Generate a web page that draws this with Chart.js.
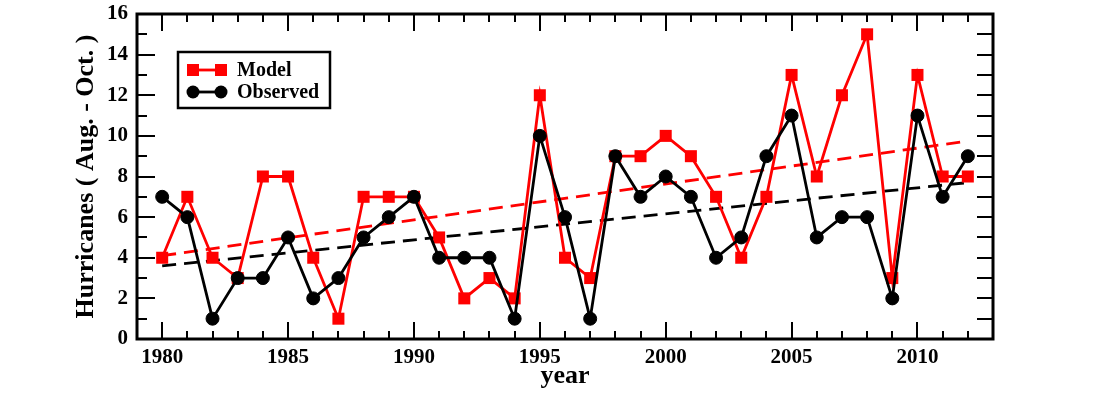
<!DOCTYPE html>
<html>
<head>
<meta charset="utf-8">
<title>Hurricanes (Aug. - Oct.)</title>
<script src="https://cdn.jsdelivr.net/npm/chart.js@4.4.1/dist/chart.umd.min.js"></script>
<style>
  html, body { margin: 0; padding: 0; background: #ffffff; }
  canvas { display: block; }
</style>
</head>
<body>
<canvas id="chart" width="1107" height="394"></canvas>
<script>
// Seasonal (August - October) hurricane counts, 1980-2012
const years = [1980, 1981, 1982, 1983, 1984, 1985, 1986, 1987, 1988, 1989,
               1990, 1991, 1992, 1993, 1994, 1995, 1996, 1997, 1998, 1999,
               2000, 2001, 2002, 2003, 2004, 2005, 2006, 2007, 2008, 2009,
               2010, 2011, 2012];
const modelCounts = [4, 7, 4, 3, 8, 8, 4, 1, 7, 7,
                     7, 5, 2, 3, 2, 12, 4, 3, 9, 9,
                     10, 9, 7, 4, 7, 13, 8, 12, 15, 3,
                     13, 8, 8];
const observedCounts = [7, 6, 1, 3, 3, 5, 2, 3, 5, 6,
                        7, 4, 4, 4, 1, 10, 6, 1, 9, 7,
                        8, 7, 4, 5, 9, 11, 5, 6, 6, 2,
                        11, 7, 9];

// Linear trend lines (end points)
const trendYears = [1980, 2012];
const modelTrend = [4.1, 9.75];
const observedTrend = [3.6, 7.7];

// Axis ticks and labels
const xTickYears = [1980, 1985, 1990, 1995, 2000, 2005, 2010];
const yTickValues = [0, 2, 4, 6, 8, 10, 12, 14, 16];
const seriesNames = ['Model', 'Observed'];
const xTitle = 'year';
const yTitle = 'Hurricanes ( Aug. - Oct. )';

const RED = '#ff0000';
const BLACK = '#000000';
const SERIF = '"Liberation Serif", "Times New Roman", serif';
const LINE_W = 2.8;

const toPoints = (xs, ys) => xs.map((x, i) => ({ x: x, y: ys[i] }));

// Boxed frame with inward major/minor ticks on all four sides
const frameTicks = {
  id: 'frameTicks',
  afterDatasetsDraw(chart) {
    const { ctx, chartArea: a, scales: { x, y } } = chart;
    ctx.save();
    ctx.strokeStyle = BLACK;
    ctx.lineWidth = 2;
    ctx.beginPath();
    for (let yr = Math.ceil(x.min) + 1; yr < x.max; yr++) {
      const px = Math.round(x.getPixelForValue(yr));
      const len = yr % 5 === 0 ? 17 : 8;
      ctx.moveTo(px, a.top); ctx.lineTo(px, a.top + len);
      ctx.moveTo(px, a.bottom); ctx.lineTo(px, a.bottom - len);
    }
    for (let v = y.min + 1; v < y.max; v++) {
      const py = Math.round(y.getPixelForValue(v));
      const len = v % 2 === 0 ? 18 : 10;
      ctx.moveTo(a.left, py); ctx.lineTo(a.left + len, py);
      ctx.moveTo(a.right, py); ctx.lineTo(a.right - 16, py);
    }
    ctx.stroke();
    ctx.lineWidth = 3;
    ctx.strokeRect(a.left, a.top, a.right - a.left, a.bottom - a.top);
    ctx.restore();
  }
};

// Boxed legend in the upper-left of the plot
const boxLegend = {
  id: 'boxLegend',
  afterDraw(chart) {
    const { ctx, chartArea: a } = chart;
    const bx = a.left + 41, by = a.top + 38, bw = 152, bh = 56;
    ctx.save();
    ctx.fillStyle = '#ffffff';
    ctx.fillRect(bx, by, bw, bh);
    ctx.strokeStyle = BLACK;
    ctx.lineWidth = 2.5;
    ctx.strokeRect(bx, by, bw, bh);
    const rows = [
      { name: seriesNames[0], color: RED, shape: 'rect', y: by + 18 },
      { name: seriesNames[1], color: BLACK, shape: 'circle', y: by + 40 }
    ];
    rows.forEach(r => {
      const x1 = bx + 15, x2 = bx + 43;
      ctx.strokeStyle = r.color;
      ctx.fillStyle = r.color;
      ctx.lineWidth = LINE_W;
      ctx.beginPath(); ctx.moveTo(x1, r.y); ctx.lineTo(x2, r.y); ctx.stroke();
      [x1, x2].forEach(px => {
        if (r.shape === 'rect') {
          ctx.fillRect(px - 6, r.y - 6, 12, 12);
        } else {
          ctx.beginPath(); ctx.arc(px, r.y, 6.5, 0, Math.PI * 2); ctx.fill();
        }
      });
      ctx.fillStyle = BLACK;
      ctx.font = 'bold 20px ' + SERIF;
      ctx.textBaseline = 'middle';
      ctx.textAlign = 'left';
      ctx.fillText(r.name, bx + 59, r.y + 1);
    });
    ctx.restore();
  }
};

new Chart(document.getElementById('chart'), {
  type: 'line',
  data: {
    datasets: [
      {
        label: seriesNames[1],
        data: toPoints(years, observedCounts),
        borderColor: BLACK,
        backgroundColor: BLACK,
        borderWidth: LINE_W,
        pointStyle: 'circle',
        pointRadius: 6.5,
        pointBorderWidth: 1,
        tension: 0
      },
      {
        label: seriesNames[0],
        data: toPoints(years, modelCounts),
        borderColor: RED,
        backgroundColor: RED,
        borderWidth: LINE_W,
        pointStyle: 'rect',
        pointRadius: 8.5,
        pointBorderWidth: 0,
        tension: 0
      },
      {
        label: seriesNames[1] + ' trend',
        data: toPoints(trendYears, observedTrend),
        borderColor: BLACK,
        borderWidth: LINE_W,
        borderDash: [14, 8],
        pointRadius: 0,
        tension: 0
      },
      {
        label: seriesNames[0] + ' trend',
        data: toPoints(trendYears, modelTrend),
        borderColor: RED,
        borderWidth: LINE_W,
        borderDash: [14, 8],
        pointRadius: 0,
        tension: 0
      }
    ]
  },
  options: {
    responsive: false,
    animation: false,
    devicePixelRatio: 1,
    layout: { padding: { left: 0, top: 14, right: 114, bottom: 0 } },
    plugins: {
      legend: { display: false },
      tooltip: { enabled: false }
    },
    scales: {
      x: {
        type: 'linear',
        min: 1979,
        max: 2013,
        grid: { display: false, drawTicks: false },
        border: { display: false },
        afterBuildTicks: s => { s.ticks = xTickYears.map(v => ({ value: v })); },
        afterFit: s => { s.height = 55; s.paddingLeft = 0; s.paddingRight = 0; },
        ticks: {
          color: BLACK,
          padding: 6,
          maxRotation: 0,
          autoSkip: false,
          font: { family: SERIF, weight: 'bold', size: 21 },
          callback: v => String(v)
        },
        title: {
          display: true,
          text: xTitle,
          color: BLACK,
          font: { family: SERIF, weight: 'bold', size: 26 },
          padding: { top: 0, bottom: 2 }
        }
      },
      y: {
        type: 'linear',
        min: 0,
        max: 16,
        grid: { display: false, drawTicks: false },
        border: { display: false },
        afterBuildTicks: s => { s.ticks = yTickValues.map(v => ({ value: v })); },
        afterFit: s => { s.width = 137; s.paddingTop = 0; s.paddingBottom = 0; },
        ticks: {
          color: BLACK,
          padding: 9,
          autoSkip: false,
          font: { family: SERIF, weight: 'bold', size: 21 },
          callback: v => String(v)
        },
        title: {
          display: true,
          text: yTitle,
          color: BLACK,
          font: { family: SERIF, weight: 'bold', size: 26 },
          padding: { top: 71, bottom: 0 }
        }
      }
    }
  },
  plugins: [frameTicks, boxLegend]
});
</script>
</body>
</html>
